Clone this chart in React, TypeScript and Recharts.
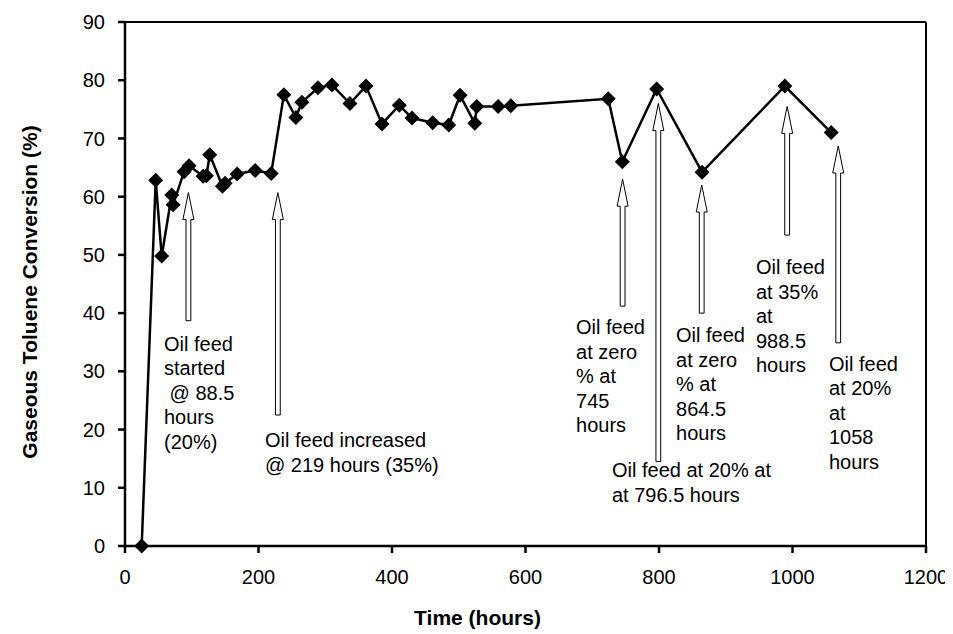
import { LineChart, Line, XAxis, YAxis, ReferenceLine, ReferenceDot } from 'recharts'

// run time (h) and gaseous toluene conversion (%)
const hours = [25, 46, 55, 70, 72, 88.5, 96, 117, 122, 127, 146, 150, 168, 195, 219, 238, 256, 265, 289, 310, 337, 361, 385, 411, 430, 461, 485, 502, 524, 527, 559, 578, 724, 745, 796.5, 864.5, 988.5, 1058]
const conversion = [0, 62.8, 49.8, 60.3, 58.6, 64.3, 65.3, 63.5, 63.6, 67.2, 61.8, 62.3, 63.9, 64.5, 64.0, 77.5, 73.6, 76.2, 78.7, 79.2, 76.0, 79.0, 72.5, 75.7, 73.5, 72.7, 72.3, 77.4, 72.6, 75.5, 75.5, 75.6, 76.8, 66.0, 78.5, 64.2, 79.0, 71.0]

const xTicks = [0, 200, 400, 600, 800, 1000, 1200]
const yTicks = [0, 10, 20, 30, 40, 50, 60, 70, 80, 90]

const data = hours.map((h, i) => ({ h, c: conversion[i] }))

const FONT = '"Liberation Sans", Arial, sans-serif'

// feed-change markers: arrow from base to tip, note text anchored at (tx, ty)
const notes = [
  { x: 95, tip: 60.7, base: 38.7, tx: 58.4, ty: 33.5, lines: ['Oil feed', 'started', ' @ 88.5', 'hours', '(20%)'] },
  { x: 229, tip: 60.7, base: 22.5, tx: 209.7, ty: 17.0, lines: ['Oil feed increased', '@ 219 hours (35%)'] },
  { x: 745.5, tip: 63, base: 41.2, tx: 675.7, ty: 36.4, lines: ['Oil feed', 'at zero', '% at', '745', 'hours'] },
  { x: 799, tip: 76, base: 14.5, tx: 729.6, ty: 11.8, lines: ['Oil feed at 20% at', 'at 796.5 hours'] },
  { x: 864, tip: 62, base: 40, tx: 825.5, ty: 35.0, lines: ['Oil feed', 'at zero', '% at', '864.5', 'hours'] },
  { x: 992, tip: 75.5, base: 53.4, tx: 945.3, ty: 46.7, lines: ['Oil feed', 'at 35%', 'at', '988.5', 'hours'] },
  { x: 1068.5, tip: 68.7, base: 34.9, tx: 1054.7, ty: 30.1, lines: ['Oil feed', 'at 20%', 'at', '1058', 'hours'] },
]

function Diamond(props: any) {
  const { cx, cy, index } = props
  if (cx == null || cy == null) return <g key={index} />
  const r = 7.5
  return <polygon key={index} points={`${cx},${cy - r} ${cx + r},${cy} ${cx},${cy + r} ${cx - r},${cy}`} fill="#000" />
}

function HollowArrow(props: any) {
  const { x1, y1, y2 } = props
  const x = x1
  const top = Math.min(y1, y2)
  const bottom = Math.max(y1, y2)
  const head = 27
  const hw = 5.5
  const sw = 2.4
  const pts = [
    [x, top], [x + hw, top + head], [x + sw, top + head], [x + sw, bottom],
    [x - sw, bottom], [x - sw, top + head], [x - hw, top + head],
  ].map(p => p.join(',')).join(' ')
  return <polygon points={pts} fill="#fff" stroke="#000" strokeWidth={1} />
}

function NoteText(lines: string[]) {
  return (props: any) => {
    const { cx, cy } = props
    return (
      <text x={cx} y={cy} fontFamily={FONT} fontSize={20} fill="#000" style={{ whiteSpace: 'pre' }}>
        {lines.map((l, i) => (
          <tspan key={i} x={cx} dy={i === 0 ? 0 : 24.5}>{l}</tspan>
        ))}
      </text>
    )
  }
}

export default function App() {
  return (
    <LineChart width={945} height={626} data={data} margin={{ top: 14, right: 27, bottom: 0, left: 0 }}>
      <XAxis
        type="number"
        dataKey="h"
        domain={[0, 1200]}
        ticks={xTicks}
        height={88}
        stroke="#000"
        strokeWidth={2.5}
        tickSize={7}
        tickMargin={17}
        tick={{ fill: '#000', fontSize: 20, fontFamily: FONT }}
        label={{ value: 'Time (hours)', position: 'insideBottom', offset: 9, dx: -48, style: { fill: '#000', fontSize: 21, fontWeight: 'bold', fontFamily: FONT } }}
      />
      <YAxis
        type="number"
        domain={[0, 90]}
        ticks={yTicks}
        width={117}
        stroke="#000"
        strokeWidth={2.5}
        tickSize={7}
        tickMargin={13}
        tick={{ fill: '#000', fontSize: 20, fontFamily: FONT }}
        label={{ value: 'Gaseous Toluene Conversion (%)', angle: -90, position: 'center', dx: -37, dy: 8, style: { fill: '#000', fontSize: 21, fontWeight: 'bold', fontFamily: FONT } }}
      />
      <ReferenceLine y={90} stroke="#000" strokeWidth={2} />
      <ReferenceLine x={1200} stroke="#000" strokeWidth={2} />
      {notes.map((n, i) => (
        <ReferenceLine
          key={`a${i}`}
          segment={[{ x: n.x, y: n.base }, { x: n.x, y: n.tip }]}
          shape={HollowArrow}
        />
      ))}
      {notes.map((n, i) => (
        <ReferenceDot key={`t${i}`} x={n.tx} y={n.ty} r={0} shape={NoteText(n.lines)} />
      ))}
      <Line
        type="linear"
        dataKey="c"
        stroke="#000"
        strokeWidth={2.5}
        dot={Diamond}
        activeDot={false}
        isAnimationActive={false}
      />
    </LineChart>
  )
}
